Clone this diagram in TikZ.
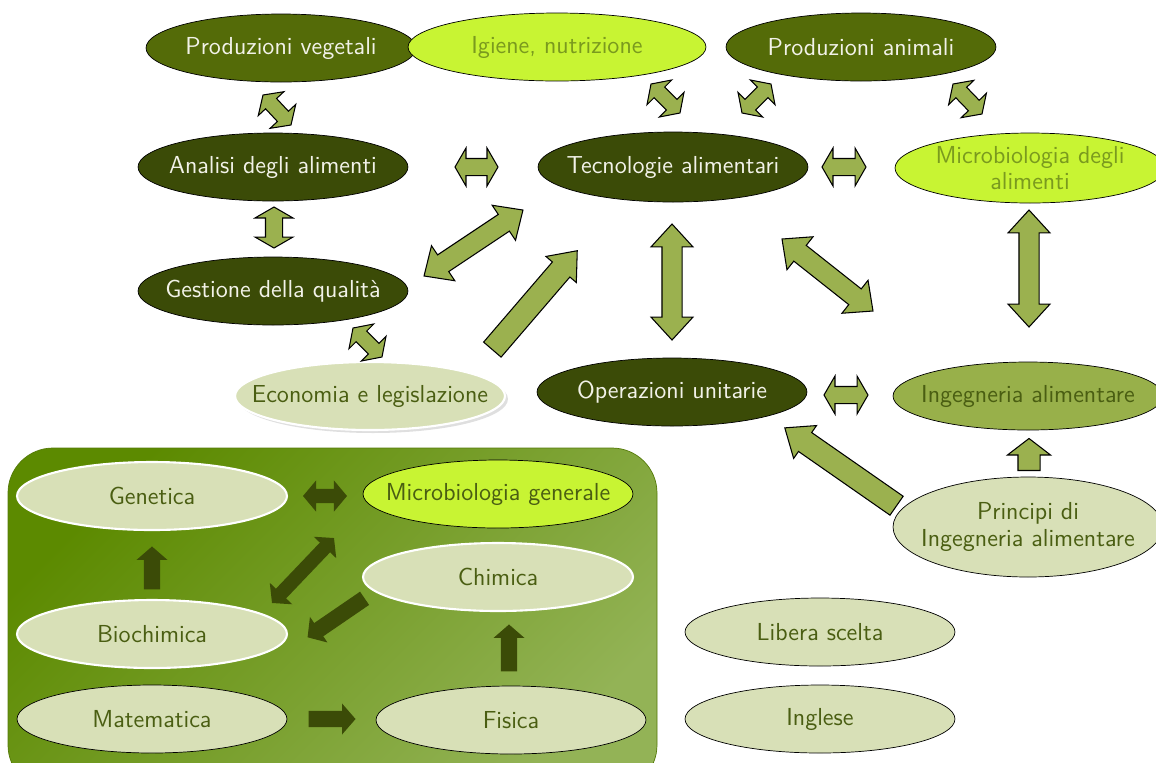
\documentclass[tikz,border=0pt]{standalone}
\definecolor{olivedark}{HTML}{3B4B07}
\definecolor{olivemid}{HTML}{546B08}
\definecolor{olivelight}{HTML}{98B04A}
\definecolor{limefill}{HTML}{C8F433}
\definecolor{palefill}{HTML}{D8E0B7}
\definecolor{arrowfill}{HTML}{9BB14F}
\definecolor{darktext}{HTML}{4A5E12}
\definecolor{limetext}{HTML}{7A9A1E}
\definecolor{lighttext}{HTML}{F2F2E8}
\definecolor{boxtop}{HTML}{5C8A00}
\definecolor{boxbot}{HTML}{93B356}
\definecolor{boxedge}{HTML}{557A0A}
\usepackage{tikz}
\usetikzlibrary{shapes.geometric,shapes.arrows,calc,shadows}

% fat double arrow between two coordinates
\newcommand\twoway[3][]{%
  \path let \p1=(#2), \p2=(#3),
    \n1={atan2(\y2-\y1,\x2-\x1)}, \n2={veclen(\x2-\x1,\y2-\y1)} in
    node[pair, #1, rotate=\n1, minimum height=\n2] at ($(#2)!0.5!(#3)$) {};}
% fat single arrow, tail to tip
\newcommand\oneway[3][]{%
  \path let \p1=(#2), \p2=(#3),
    \n1={atan2(\y2-\y1,\x2-\x1)}, \n2={veclen(\x2-\x1,\y2-\y1)} in
    node[solo, #1, rotate=\n1, minimum height=\n2, anchor=tail] at (#2) {};}

\begin{document}
\begin{tikzpicture}[x=0.02cm, y=-0.02cm,
  oval/.style={ellipse, inner xsep=-0.5cm, inner ysep=0pt, minimum width=5.4cm, minimum height=1.36cm,
    align=center, font=\fontsize{14}{15}\selectfont\sffamily},
  darkoval/.style={oval, draw=black, fill=olivedark, text=lighttext},
  olivoval/.style={oval, draw=black, fill=olivemid, text=lighttext},
  limeoval/.style={oval, draw=black, fill=limefill, text=limetext},
  paleoval/.style={oval, draw=black, fill=palefill, text=darktext},
  glowoval/.style={oval, draw=white, line width=1.2pt, fill=palefill, text=darktext},
  pair/.style={double arrow, draw=black, line width=0.6pt, fill=arrowfill, inner xsep=0pt},
  shortpair/.style={inner ysep=0.16cm, double arrow head extend=0.21cm, double arrow tip angle=120},
  slantpair/.style={inner ysep=0.14cm, double arrow head extend=0.2cm, double arrow tip angle=112},
  longpair/.style={inner ysep=0.19cm, double arrow head extend=0.22cm, double arrow tip angle=85},
  boxpair/.style={draw=none, fill=olivedark, inner ysep=0.13cm, double arrow head extend=0.17cm, double arrow tip angle=100},
  solo/.style={single arrow, draw=black, line width=0.6pt, fill=arrowfill, inner xsep=0pt},
  bigsolo/.style={inner ysep=0.22cm, single arrow head extend=0.17cm, single arrow tip angle=78},
  stubsolo/.style={inner ysep=0.21cm, single arrow head extend=0.21cm, single arrow tip angle=105},
  boxsolo/.style={draw=none, fill=olivedark, inner ysep=0.15cm, single arrow head extend=0.15cm, single arrow tip angle=98}
]
  \useasboundingbox (0,0) rectangle (1156,762);

  % base courses box
  \shadedraw[draw=boxedge, rounded corners=0.9cm, top color=boxtop, bottom color=boxbot,
    shading angle=45] (8,448) rectangle (657,790);

  % Courses
  \node[olivoval] (veg) at (281,48) {Produzioni vegetali};
  \node[limeoval, minimum width=5.96cm] (igi) at (557,47) {Igiene, nutrizione};
  \node[olivoval] (ani) at (861,47) {Produzioni animali};
  \node[darkoval] (ana) at (273,167) {Analisi degli alimenti};
  \node[darkoval, minimum height=1.4cm] (tec) at (673,167) {Tecnologie alimentari};
  \node[limeoval, minimum height=1.4cm] (mic) at (1030,168) {Microbiologia degli\\alimenti};
  \node[darkoval] (ges) at (273,291) {Gestione della qualità};
  \node[glowoval, drop shadow={shadow xshift=0.06cm, shadow yshift=-0.06cm, opacity=0.25}]
    (eco) at (370,396) {Economia e legislazione};
  \node[darkoval] (ope) at (672,392) {Operazioni unitarie};
  \node[oval, draw=black, fill=olivelight, text=darktext] (ing) at (1028,396) {Ingegneria alimentare};
  \node[paleoval, minimum height=2cm] (pri) at (1028,527) {Principi di\\Ingegneria alimentare};
  \node[paleoval] (lib) at (820,632) {Libera scelta};
  \node[paleoval] (ingl) at (820,719) {Inglese};

  % Base courses
  \node[glowoval] (gen) at (152,496) {Genetica};
  \node[limeoval, text=darktext] (mig) at (498,494) {Microbiologia generale};
  \node[glowoval] (chi) at (498,577) {Chimica};
  \node[glowoval] (bio) at (152,634) {Biochimica};
  \node[paleoval] (mat) at (152,719) {Matematica};
  \node[paleoval] (fis) at (511,720) {Fisica};

  % arrow ends
  \coordinate (vegA) at (263,95);   \coordinate (anaA) at (291,125);
  \coordinate (igiA) at (651,84);   \coordinate (tecA) at (680,113);
  \coordinate (aniA) at (771,84);   \coordinate (tecB) at (742,113);
  \coordinate (aniB) at (953,84);   \coordinate (micA) at (982,114);
  \coordinate (anaB) at (455,167);  \coordinate (tecC) at (498,167);
  \coordinate (tecD) at (822,167);  \coordinate (micB) at (866,167);
  \coordinate (anaC) at (274,207);  \coordinate (gesA) at (274,248);
  \coordinate (gesB) at (424,276);  \coordinate (tecE) at (523,210);
  \coordinate (ecoA) at (492,350);  \coordinate (tecF) at (577,251);
  \coordinate (tecG) at (672,224);  \coordinate (opeA) at (672,340);
  \coordinate (tecH) at (782,239);  \coordinate (ingA) at (873,311);
  \coordinate (micC) at (1029,210); \coordinate (ingB) at (1029,327);
  \coordinate (gesC) at (353,328);  \coordinate (ecoB) at (382,357);
  \coordinate (opeB) at (824,395);  \coordinate (ingC) at (868,395);
  \coordinate (priA) at (897,506);  \coordinate (opeC) at (785,428);
  \coordinate (priB) at (1029,471); \coordinate (ingD) at (1029,439);
  \coordinate (genA) at (303,496);  \coordinate (migA) at (347,496);
  \coordinate (bioA) at (272,603);  \coordinate (migB) at (334,538);
  \coordinate (chiA) at (365,598);  \coordinate (bioB) at (308,637);
  \coordinate (bioC) at (152,590);  \coordinate (genB) at (152,547);
  \coordinate (fisA) at (509,672);  \coordinate (chiB) at (509,625);
  \coordinate (matA) at (308,719);  \coordinate (fisB) at (355,719);

  % Links
  \twoway[slantpair]{vegA}{anaA}
  \twoway[slantpair]{igiA}{tecA}
  \twoway[slantpair]{aniA}{tecB}
  \twoway[slantpair]{aniB}{micA}
  \twoway[shortpair]{anaB}{tecC}
  \twoway[shortpair]{tecD}{micB}
  \twoway[shortpair]{anaC}{gesA}
  \twoway[longpair]{gesB}{tecE}
  \oneway[bigsolo]{ecoA}{tecF}
  \twoway[longpair]{tecG}{opeA}
  \twoway[longpair]{tecH}{ingA}
  \twoway[longpair]{micC}{ingB}
  \twoway[slantpair]{gesC}{ecoB}
  \twoway[shortpair]{opeB}{ingC}
  \oneway[bigsolo]{priA}{opeC}
  \oneway[stubsolo]{priB}{ingD}

  % Links in the box
  \twoway[boxpair]{genA}{migA}
  \twoway[boxpair]{bioA}{migB}
  \oneway[boxsolo]{chiA}{bioB}
  \oneway[boxsolo]{bioC}{genB}
  \oneway[boxsolo]{fisA}{chiB}
  \oneway[boxsolo]{matA}{fisB}
\end{tikzpicture}
\end{document}
